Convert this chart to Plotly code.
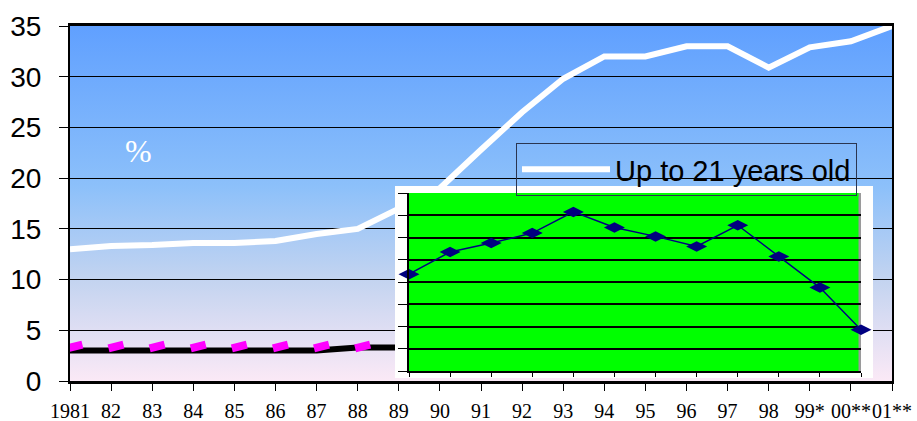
import base64
import plotly.graph_objects as go

# ---------------- data ----------------
years = ["1981", "82", "83", "84", "85", "86", "87", "88", "89", "90", "91",
         "92", "93", "94", "95", "96", "97", "98", "99*", "00**", "01**"]
up_to_21 = [13.0, 13.3, 13.4, 13.6, 13.6, 13.8, 14.5, 15.0, 17.0, 19.0, 22.8,
            26.5, 29.8, 32.0, 32.0, 33.0, 33.0, 30.9, 32.9, 33.5, 35.0]

low_years = ["1981", "82", "83", "84", "85", "86", "87", "88", "89"]
black_vals = [3.0, 3.0, 3.0, 3.0, 3.0, 3.0, 3.0, 3.3, 3.3]
magenta_vals = [3.4, 3.4, 3.4, 3.4, 3.4, 3.4, 3.4, 3.4, 3.4]

inset_years = ["90", "91", "92", "93", "94", "95", "96", "97", "98", "99", "00", "01"]
inset_vals = [8.7, 10.7, 11.5, 12.4, 14.3, 12.9, 12.1, 11.2, 13.1, 10.3, 7.5, 3.7]

y_ticks = [0, 5, 10, 15, 20, 25, 30, 35]

# ---------------- figure ----------------
W, H = 917, 421
ML, MR, MT, MB = 70, 25, 26, 40
pw, ph = W - ML - MR, H - MT - MB


def px_x(p):
    return (p - ML) / pw


def px_y(p):
    return (H - MB - p) / ph


svg = ('<svg xmlns="http://www.w3.org/2000/svg" width="10" height="100" '
       'viewBox="0 0 10 100" preserveAspectRatio="none"><defs>'
       '<linearGradient id="g" x1="0" y1="0" x2="0" y2="1">'
       '<stop offset="0" stop-color="#60A0FF"/>'
       '<stop offset="0.45" stop-color="#8CC0FA"/>'
       '<stop offset="0.72" stop-color="#C4D4F0"/>'
       '<stop offset="1" stop-color="#FBE9F6"/>'
       '</linearGradient></defs><rect width="10" height="100" fill="url(#g)"/></svg>')
grad_src = "data:image/svg+xml;base64," + base64.b64encode(svg.encode()).decode()

n = len(years) - 1
shift = 0.12  # small 3-D style offset of the magenta markers

fig = go.Figure()

fig.add_trace(go.Scatter(x=low_years, y=black_vals, mode="lines",
                         line=dict(color="black", width=6),
                         showlegend=False, hoverinfo="skip"))
fig.add_trace(go.Scatter(x=low_years, y=magenta_vals, mode="markers", xaxis="x4",
                         marker=dict(symbol="line-ew", size=11, angle=-14,
                                     line=dict(color="#FF00FF", width=8)),
                         showlegend=False, hoverinfo="skip"))
fig.add_trace(go.Scatter(x=years, y=up_to_21, mode="lines", name="Up to 21 years old",
                         line=dict(color="white", width=6)))

# white frame subplot (covers main traces)
fig.add_trace(go.Scatter(x=[], y=[], xaxis="x2", yaxis="y2", showlegend=False,
                         hoverinfo="skip"))
# green inset
fig.add_trace(go.Scatter(x=inset_years, y=inset_vals, xaxis="x3", yaxis="y3",
                         mode="lines+markers", showlegend=False, cliponaxis=False,
                         line=dict(color="#000080", width=1.5),
                         marker=dict(symbol="diamond-wide", size=15, color="#000080")))

frame_x = [px_x(395), px_x(873)]
frame_y = [px_y(378), px_y(186)]
green_x = [px_x(409), px_x(861)]
green_y = [px_y(371), px_y(193)]

fig.update_layout(
    width=W, height=H,
    margin=dict(l=ML, r=MR, t=MT, b=MB),
    paper_bgcolor="#ffffff",
    plot_bgcolor="#fffffe",
    xaxis=dict(type="category", categoryarray=years, categoryorder="array",
               range=[0, n], showgrid=False,
               showline=True, linecolor="black", linewidth=2.5, mirror=True,
               ticks="outside", ticklen=7, tickcolor="black", tickwidth=1,
               tickangle=0, automargin=False,
               tickfont=dict(family="Liberation Serif, Times New Roman, serif",
                             size=20, color="black"),
               ticklabelstandoff=3, zeroline=False),
    xaxis4=dict(type="category", categoryarray=years, categoryorder="array",
                overlaying="x", range=[-shift, n - shift], visible=False),
    yaxis=dict(range=[0, 35], tickvals=y_ticks, showgrid=True, gridcolor="black",
               gridwidth=1, showline=True, linecolor="black", linewidth=2,
               mirror=True, ticks="outside", ticklen=9, tickcolor="black",
               automargin=False,
               tickfont=dict(family="Liberation Sans, Arial, sans-serif",
                             size=28, color="black"),
               ticklabelstandoff=12, zeroline=False),
    xaxis2=dict(domain=frame_x, anchor="y2", range=[0, 1], showgrid=False,
                zeroline=False, showline=False, showticklabels=False, ticks=""),
    yaxis2=dict(domain=frame_y, anchor="x2", range=[0, 1], showgrid=False,
                zeroline=False, showline=False, showticklabels=False, ticks=""),
    xaxis3=dict(domain=green_x, anchor="y3", type="category",
                range=[0, len(inset_years) - 1], showgrid=False, zeroline=False,
                showline=True, linecolor="black", linewidth=1.5, ticks="outside",
                ticklen=4, tickcolor="black", showticklabels=False),
    yaxis3=dict(domain=green_y, anchor="x3", range=[0, 16], dtick=2,
                showgrid=True, gridcolor="black", gridwidth=1.5, zeroline=False,
                showline=True, linecolor="black", linewidth=2, ticks="outside",
                ticklen=9, tickcolor="black", showticklabels=False),
    legend=dict(x=px_x(516), y=px_y(143), xanchor="left", yanchor="top",
                bgcolor="rgba(0,0,0,0)", bordercolor="#2a3550", borderwidth=1,
                font=dict(family="Liberation Sans, Arial, sans-serif", size=29,
                          color="black"),
                itemwidth=88),
    images=[dict(source=grad_src, xref="paper", yref="paper", x=0, y=1,
                 sizex=1, sizey=1, xanchor="left", yanchor="top",
                 sizing="stretch", layer="below")],
    shapes=[
        dict(type="rect", xref="x3", yref="y3", x0=-1, x1=len(inset_years),
             y0=-2, y1=18, fillcolor="#00FF00", line=dict(width=0), layer="below"),
        dict(type="line", xref="x3", yref="y3", x0=len(inset_years) - 1,
             x1=len(inset_years) - 1, y0=-2, y1=18,
             line=dict(color="#9a9a9a", width=5), layer="below"),
    ],
    annotations=[dict(text="%", xref="paper", yref="paper", x=px_x(138),
                      y=px_y(151), xanchor="center", yanchor="middle",
                      showarrow=False,
                      font=dict(family="Liberation Serif, Times New Roman, serif",
                                size=32, color="white"))],
    showlegend=True,
)

fig.write_html("out.html",
               config={"displayModeBar": False},
               post_script="document.body.style.margin='0px';"
                           "document.body.style.padding='0px';"
                           "document.body.style.overflow='hidden';")
